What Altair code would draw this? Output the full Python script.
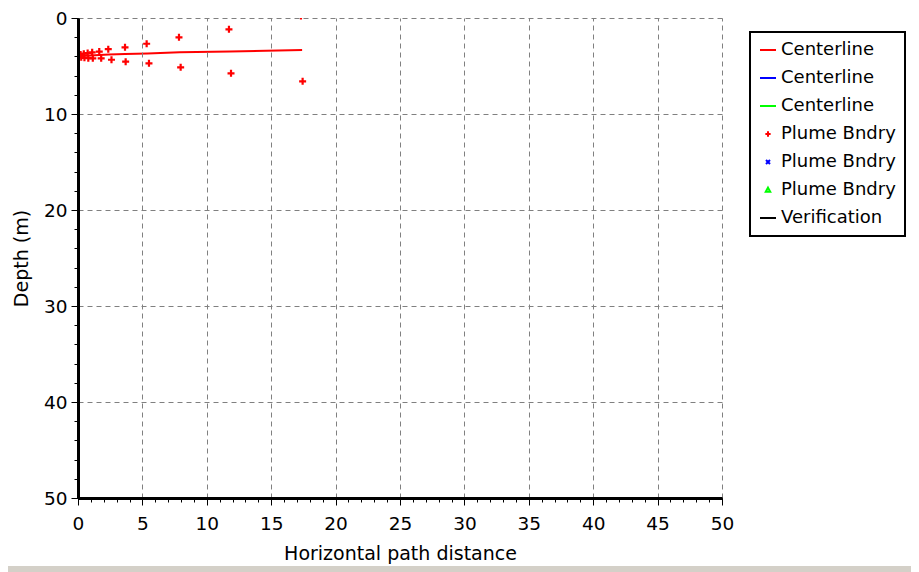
import altair as alt
import pandas as pd

# ---- data ----
center_x = [0.0, 0.5, 1.0, 1.65, 2.4, 3.65, 5.4, 7.9, 11.8, 17.4]
center_y = [3.95, 3.93, 3.9, 3.85, 3.8, 3.76, 3.7, 3.58, 3.48, 3.33]

upper_x = [0.2, 0.45, 0.75, 1.1, 1.65, 2.35, 3.65, 5.33, 7.84, 11.72, 17.31]
upper_y = [3.8, 3.72, 3.65, 3.58, 3.5, 3.25, 3.05, 2.68, 2.01, 1.18, -0.2]
lower_x = [0.25, 0.5, 0.8, 1.15, 1.8, 2.6, 3.7, 5.51, 7.97, 11.88, 17.44]
lower_y = [4.1, 4.15, 4.18, 4.2, 4.2, 4.35, 4.55, 4.72, 5.14, 5.76, 6.6]

x_ticks = [0, 5, 10, 15, 20, 25, 30, 35, 40, 45, 50]
x_minor = list(range(0, 51, 1))
y_ticks = [0, 10, 20, 30, 40, 50]
y_minor = list(range(0, 51, 2))

legend_labels = ["Centerline", "Centerline ", "Centerline  ",
                 "Plume Bndry", "Plume Bndry ", "Plume Bndry  ", "Verification"]
legend_colors = ["#ff0000", "#0000ff", "#00ff00",
                 "#ff0000", "#0000ff", "#00ff00", "#000000"]
PLUS = "M-0.33,0L0.33,0M0,-0.33L0,0.33"
XMARK = "M-0.25,-0.25L0.25,0.25M-0.25,0.25L0.25,-0.25"
TRI = "M0,-0.3L0.28,0.22L-0.28,0.22Z"
legend_shapes = ["stroke", "stroke", "stroke", PLUS, XMARK, TRI, "stroke"]

FONT = "DejaVu Sans"

center_df = pd.DataFrame({"x": center_x, "y": center_y, "series": "Centerline"})
bnd_df = pd.DataFrame({"x": upper_x + lower_x, "y": upper_y + lower_y,
                       "series": "Plume Bndry"})

xscale = alt.Scale(domain=[0, 50], nice=False, zero=False)
yscale = alt.Scale(domain=[0, 50], reverse=True, nice=False, zero=False)
color_scale = alt.Scale(domain=legend_labels, range=legend_colors)
shape_scale = alt.Scale(domain=legend_labels, range=legend_shapes)

legend = alt.Legend(
    title=None, orient="none", legendX=672, legendY=14,
    strokeColor="black", fillColor="white", padding=9,
    labelFont=FONT, labelFontSize=18, labelColor="black",
    rowPadding=10, labelOffset=4, symbolSize=256, symbolStrokeWidth=2,
    symbolOpacity=1,
)

major_x = alt.Axis(
    orient="bottom", values=x_ticks, title="Horizontal path distance",
    grid=True, gridDash=[5, 4], gridColor="#808080", gridWidth=1,
    domainColor="black", domainWidth=3, tickColor="black", tickSize=7, tickWidth=1,
    labelFont=FONT, labelFontSize=18.5, labelColor="black", labelPadding=9,
    labelFlush=False, labelOverlap=False,
    titleFont=FONT, titleFontSize=19, titleFontWeight="normal", titleColor="black",
    titlePadding=12, zindex=1,
)
major_y = alt.Axis(
    orient="left", values=y_ticks, title="Depth (m)",
    grid=True, gridDash=[5, 4], gridColor="#808080", gridWidth=1,
    domainColor="black", domainWidth=3, tickColor="black", tickSize=7, tickWidth=1,
    labelFont=FONT, labelFontSize=18.5, labelColor="black", labelPadding=4,
    labelFlush=False, labelOverlap=False,
    titleFont=FONT, titleFontSize=19, titleFontWeight="normal", titleColor="black",
    titlePadding=12, zindex=1,
)
minor_x = alt.Axis(orient="bottom", values=x_minor, labels=False, domain=False,
                   grid=False, title=None, tickSize=4, tickColor="black", tickWidth=1,
                   zindex=1)
minor_y = alt.Axis(orient="left", values=y_minor, labels=False, domain=False,
                   grid=False, title=None, tickSize=4, tickColor="black", tickWidth=1,
                   zindex=1)

line = alt.Chart(center_df).mark_line(strokeWidth=2, clip=True).encode(
    x=alt.X("x:Q", scale=xscale, axis=major_x),
    y=alt.Y("y:Q", scale=yscale, axis=major_y),
    color=alt.Color("series:N", scale=color_scale, legend=legend),
)

pts = alt.Chart(bnd_df).mark_point(filled=False, size=450, strokeWidth=2.2,
                                   opacity=1, clip=True).encode(
    x=alt.X("x:Q", scale=xscale, axis=minor_x),
    y=alt.Y("y:Q", scale=yscale, axis=minor_y),
    color=alt.Color("series:N", scale=color_scale, legend=legend),
    shape=alt.Shape("series:N", scale=shape_scale, legend=legend),
)

strip = alt.Chart(pd.DataFrame({"a": [0]})).mark_rect(color="#d4d0c8").encode(
    x=alt.value(-70), x2=alt.value(850), y=alt.value(548), y2=alt.value(560)
)

chart = (
    alt.layer(line, pts, strip)
    .resolve_axis(x="independent", y="independent")
    .properties(
        width=644, height=480,
        autosize=alt.AutoSizeParams(type="none"),
        padding={"left": 70, "top": 10, "right": 189, "bottom": 74},
        background="white",
    )
    .configure_view(stroke=None)
    .configure_legend(strokeWidth=2)
)

chart.save("out.html", embed_options={"renderer": "svg", "actions": False})
